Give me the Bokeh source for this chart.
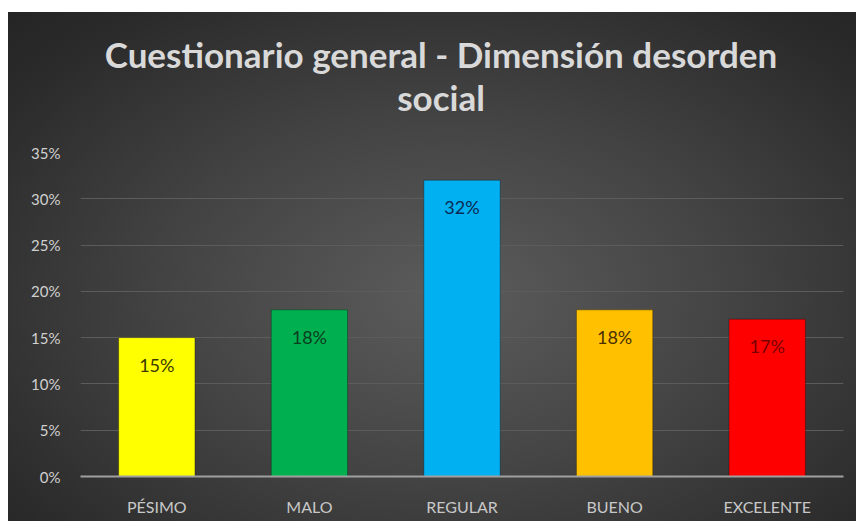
from bokeh.plotting import figure
from bokeh.models import ColumnDataSource, FixedTicker, NumeralTickFormatter, LabelSet, Div
from bokeh.layouts import column
from bokeh.core.properties import value
from bokeh.embed import file_html
from bokeh.resources import INLINE

categories = ["PÉSIMO", "MALO", "REGULAR", "BUENO", "EXCELENTE"]
values = [0.15, 0.18, 0.32, 0.18, 0.17]
labels = ["15%", "18%", "32%", "18%", "17%"]
bar_colors = ["#FFFF00", "#00B050", "#00B0F0", "#FFC000", "#FF0000"]
label_colors = ["#3a3a00", "#0b3d1f", "#0d2b55", "#4a3000", "#7a0000"]
y_ticks = [0, 0.05, 0.10, 0.15, 0.20, 0.25, 0.30, 0.35]
title_line1 = "Cuestionario general - Dimensión desorden"
title_line2 = "social"

FONT = "Lato"
W = 856
TITLE_H = 140

title_div = Div(
    text=(f"<div style=\"box-sizing:border-box;font-family:'{FONT}';font-weight:bold;"
          f"font-size:35px;line-height:43px;color:#d9d9d9;text-align:center;"
          f"padding-top:33px;padding-left:26px;width:{W}px;\">"
          f"{title_line1}<br>{title_line2}</div>"),
    width=W, height=TITLE_H, margin=0)

src = ColumnDataSource(dict(cat=categories, val=values, lab=labels,
                            color=bar_colors, lcolor=label_colors))

p = figure(x_range=categories, y_range=(0, 0.35), width=W, height=521 - TITLE_H,
           output_backend="svg", toolbar_location=None,
           min_border_left=80, min_border_right=13,
           min_border_top=12, min_border_bottom=45,
           title=None)

p.background_fill_color = None
p.border_fill_color = None
p.outline_line_color = None

p.vbar(x="cat", top="val", width=0.5, fill_color="color",
       line_color="#000000", line_alpha=0.3, line_width=1, source=src)

p.add_layout(LabelSet(x="cat", y="val", text="lab", text_color="lcolor",
                      y_offset=-27, text_align="center", text_baseline="middle",
                      text_font=value(FONT), text_font_size="18px", source=src))

p.yaxis.ticker = FixedTicker(ticks=y_ticks)
p.yaxis.formatter = NumeralTickFormatter(format="0%")
p.yaxis.axis_line_color = None
p.yaxis.major_tick_line_color = None
p.yaxis.minor_tick_line_color = None
p.yaxis.major_label_text_color = "#d0d0d0"
p.yaxis.major_label_text_font = FONT
p.yaxis.major_label_text_font_size = "15px"
p.yaxis.major_label_standoff = 14

p.xaxis.axis_line_color = "#a0a0a0"
p.xaxis.axis_line_width = 2
p.xaxis.major_tick_line_color = None
p.xaxis.minor_tick_line_color = None
p.xaxis.major_label_text_color = "#c8c8c8"
p.xaxis.major_label_text_font = FONT
p.xaxis.major_label_text_font_size = "16px"
p.xaxis.major_label_standoff = 14

p.xgrid.grid_line_color = None
p.ygrid.ticker = FixedTicker(ticks=y_ticks)
p.ygrid.grid_line_color = "#5c5c5c"
p.ygrid.grid_line_width = 1

layout = column(title_div, p, spacing=0, width=W, height=521, styles={"background": (
    "radial-gradient(ellipse 75% 80% at 52% 56%, #5c5c5c 0%, #434343 45%, "
    "#2a2a2a 85%, #242424 100%) 8px 12px / calc(100% - 8px) calc(100% - 12px) no-repeat, "
    "#ffffff")})

open("out.html", "w").write(file_html(layout, INLINE))
